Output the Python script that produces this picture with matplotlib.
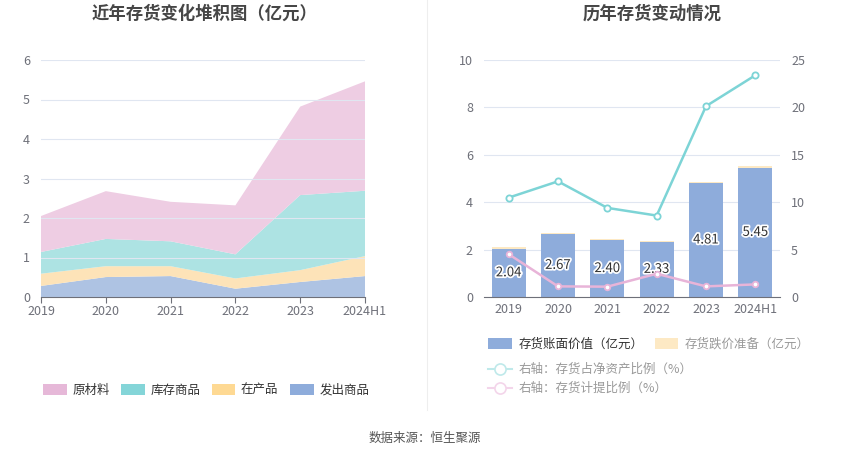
import matplotlib.pyplot as plt
import matplotlib.patheffects as pe
from matplotlib.patches import Patch
from matplotlib.lines import Line2D
import numpy as np

plt.rcParams['font.family'] = ['Noto Sans CJK SC', 'DejaVu Sans']

years = ['2019', '2020', '2021', '2022', '2023', '2024H1']

# 左图：存货构成（亿元）
shipped = [0.28, 0.505, 0.53, 0.21, 0.38, 0.53]       # 发出商品
wip = [0.31, 0.275, 0.25, 0.26, 0.30, 0.505]          # 在产品
goods = [0.55, 0.69, 0.63, 0.61, 1.90, 1.655]         # 库存商品
raw = [0.91, 1.21, 1.00, 1.24, 2.24, 2.77]            # 原材料

# 右图
book_value = [2.04, 2.67, 2.40, 2.33, 4.81, 5.45]     # 存货账面价值（亿元）
provision = [0.08, 0.03, 0.03, 0.05, 0.06, 0.08]      # 存货跌价准备（亿元）
ratio_net_assets = [10.48, 12.2, 9.4, 8.59, 20.13, 23.39]  # 存货占净资产比例（%）
ratio_provision = [4.52, 1.12, 1.09, 2.45, 1.12, 1.33]     # 存货计提比例（%）

tick_color = '#6e7079'
grid_color = '#e0e6f1'

fig = plt.figure(figsize=(8.5, 4.59), dpi=100)

# ---- left: stacked area ----
ax1 = fig.add_axes([41/850, 1-297/459, 324/850, 237/459])
x = np.arange(len(years))
fill_colors = ['#aec3e3', '#fde3b8', '#ade3e3', '#eecde3']
ax1.stackplot(x, shipped, wip, goods, raw, colors=fill_colors, linewidth=0)
ax1.set_xlim(0, len(years) - 1)
ax1.set_ylim(0, 6)
ax1.set_yticks(range(0, 7))
ax1.set_xticks(x)
ax1.set_xticklabels(years)
ax1.grid(axis='y', color=grid_color, linewidth=0.8)
ax1.set_axisbelow(False)
for s in ['top', 'right', 'left']:
    ax1.spines[s].set_visible(False)
ax1.spines['bottom'].set_color('#6e7079')
ax1.tick_params(axis='y', length=0, colors=tick_color, labelsize=9, pad=8)
ax1.tick_params(axis='x', length=4, color='#6e7079', colors=tick_color, labelsize=9, pad=2)
fig.text(205/850, 1-14/459, '近年存货变化堆积图（亿元）', ha='center', va='center',
         fontsize=12.5, fontweight='bold', color='#464646')

leg_colors = ['#e6b8d8', '#84d5d8', '#fed993', '#8eacdb']
leg_labels = ['原材料', '库存商品', '在产品', '发出商品']
h1 = [Patch(facecolor=c, edgecolor='none') for c in leg_colors]
fig.legend(h1, leg_labels, loc='center', bbox_to_anchor=(206/850, 1-390/459), ncol=4,
           frameon=False, fontsize=9, handlelength=1.9, handleheight=1.0,
           columnspacing=0.9, handletextpad=0.45, labelcolor='#333333')

# separator
fig.add_artist(Line2D([427/850, 427/850], [1-410/459, 1.0], color='#eeeeee', linewidth=0.8))

# ---- right: bars + lines ----
ax2 = fig.add_axes([484/850, 1-297/459, 296/850, 237/459])
bw = 0.69
ax2.bar(x, book_value, width=bw, color='#8eacdb', zorder=2)
ax2.bar(x, provision, width=bw, bottom=book_value, color='#fde9c4', zorder=2)
ax2.set_xlim(-0.5, len(years) - 0.5)
ax2.set_ylim(0, 10)
ax2.set_yticks(range(0, 11, 2))
ax2.set_xticks(x)
ax2.set_xticklabels(years)
ax2.grid(axis='y', color=grid_color, linewidth=0.8, zorder=0)
ax2.set_axisbelow(True)
for s in ['top', 'right', 'left']:
    ax2.spines[s].set_visible(False)
ax2.spines['bottom'].set_color('#6e7079')
ax2.tick_params(axis='y', length=0, colors=tick_color, labelsize=9, pad=8)
ax2.tick_params(axis='x', length=0, colors=tick_color, labelsize=9, pad=4)
for xi, v in zip(x, book_value):
    ax2.text(xi, v / 2, f'{v:.2f}', ha='center', va='center', fontsize=9.5, color='#333333',
             zorder=6, path_effects=[pe.withStroke(linewidth=2.5, foreground='white')])

ax3 = ax2.twinx()
ax3.set_ylim(0, 25)
ax3.set_yticks(range(0, 26, 5))
ax3.plot(x, ratio_net_assets, color='#7dd4d6', linewidth=1.8, marker='o', markersize=4.5,
         markerfacecolor='white', markeredgewidth=1.3, zorder=4)
ax3.plot(x, ratio_provision, color='#e8b4d8', linewidth=1.8, marker='o', markersize=4,
         markerfacecolor='white', markeredgewidth=1.3, zorder=4)
for s in ['top', 'right', 'left', 'bottom']:
    ax3.spines[s].set_visible(False)
ax3.tick_params(axis='y', length=0, colors=tick_color, labelsize=9, pad=8)
fig.text(652/850, 1-14/459, '历年存货变动情况', ha='center', va='center',
         fontsize=12.5, fontweight='bold', color='#464646')

h2 = [Patch(facecolor='#8eacdb', edgecolor='none'), Patch(facecolor='#fde9c4', edgecolor='none')]
lg2 = fig.legend(h2, ['存货账面价值（亿元）', '存货跌价准备（亿元）'], loc='center left',
                 bbox_to_anchor=(477/850, 1-344/459), ncol=2, frameon=False, fontsize=9,
                 handlelength=1.9, handleheight=1.0, columnspacing=0.9, handletextpad=0.5)
lg2.get_texts()[0].set_color('#333333')
lg2.get_texts()[1].set_color('#999999')

h3 = [Line2D([], [], color='#bfe9ea', marker='o', markersize=8, markerfacecolor='white',
             markeredgewidth=1.2, linewidth=1.5),
      Line2D([], [], color='#f3d5ea', marker='o', markersize=8, markerfacecolor='white',
             markeredgewidth=1.2, linewidth=1.5)]
lg3 = fig.legend(h3, ['右轴：存货占净资产比例（%）', '右轴：存货计提比例（%）'], loc='upper left',
                 bbox_to_anchor=(477/850, 1-352/459), ncol=1, frameon=False, fontsize=9,
                 handlelength=1.9, handletextpad=0.5, labelspacing=0.45, labelcolor='#999999')

fig.text(425/850, 1-438/459, '数据来源：恒生聚源', ha='center', va='center', fontsize=9, color='#555555')

fig.savefig('out.png', dpi=100)
